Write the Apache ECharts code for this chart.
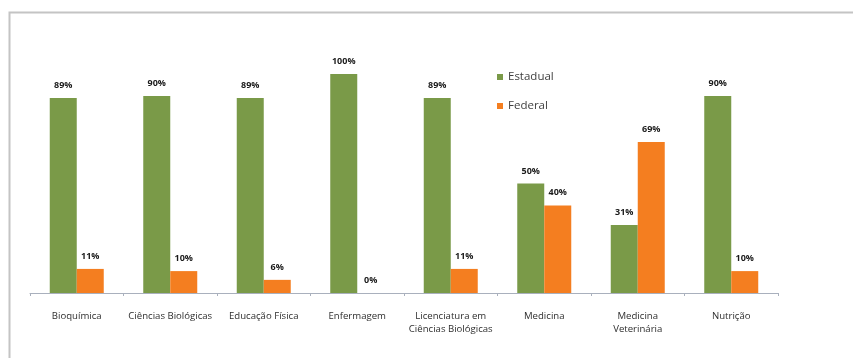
<!DOCTYPE html>
<html>
<head>
<meta charset="utf-8">
<script src="https://cdn.jsdelivr.net/npm/echarts@6/dist/echarts.min.js"></script>
<style>
  html, body { margin: 0; padding: 0; background: #fff; }
  #chart { width: 853px; height: 358px; }
</style>
</head>
<body>
<div id="chart"></div>
<script>
// Course names (category axis)
const cursos = [
  'Bioquímica',
  'Ciências Biológicas',
  'Educação Física',
  'Enfermagem',
  'Licenciatura em\nCiências Biológicas',
  'Medicina',
  'Medicina\nVeterinária',
  'Nutrição'
];
// Share of students by type of school (%)
const estadual = [89, 90, 89, 100, 89, 50, 31, 90];
const federal = [11, 10, 6, 0, 11, 40, 69, 10];

const labelFont = 'Open Sans';
const chart = echarts.init(document.getElementById('chart'), null, { renderer: 'canvas' });

const valueLabel = {
  show: true,
  position: 'top',
  distance: 8,
  formatter: '{c}%',
  fontFamily: labelFont,
  fontWeight: 'bold',
  fontSize: 9,
  color: '#1a1a1a'
};

chart.setOption({
  animation: false,
  backgroundColor: '#fff',
  graphic: [{
    type: 'rect',
    left: 7,
    top: 10,
    shape: { width: 900, height: 400 },
    style: { fill: 'none', stroke: '#c4c4c4', lineWidth: 2 },
    z: -1
  }],
  legend: {
    orient: 'vertical',
    left: 492,
    top: 66,
    itemWidth: 6,
    itemHeight: 6,
    itemGap: 17,
    icon: 'rect',
    textStyle: { fontFamily: labelFont, fontSize: 11.5, color: '#404040' },
    data: ['Estadual', 'Federal']
  },
  grid: { left: 30, right: 75, top: 74, bottom: 65 },
  xAxis: {
    type: 'category',
    data: cursos,
    axisLine: { lineStyle: { color: '#a9b0bd', width: 1 } },
    axisTick: { show: true, length: 3, lineStyle: { color: '#a9b0bd' } },
    axisLabel: {
      interval: 0,
      margin: 17,
      fontFamily: labelFont,
      fontSize: 9.6,
      lineHeight: 13,
      color: '#2e2e2e'
    }
  },
  yAxis: {
    type: 'value',
    min: 0,
    max: 100,
    show: false,
    splitLine: { show: false }
  },
  series: [
    {
      name: 'Estadual',
      type: 'bar',
      data: estadual,
      barWidth: 27,
      barGap: '0%',
      itemStyle: { color: '#7a9a48' },
      label: valueLabel
    },
    {
      name: 'Federal',
      type: 'bar',
      data: federal,
      barWidth: 27,
      itemStyle: { color: '#f47e20' },
      label: valueLabel
    }
  ]
});
</script>
</body>
</html>
